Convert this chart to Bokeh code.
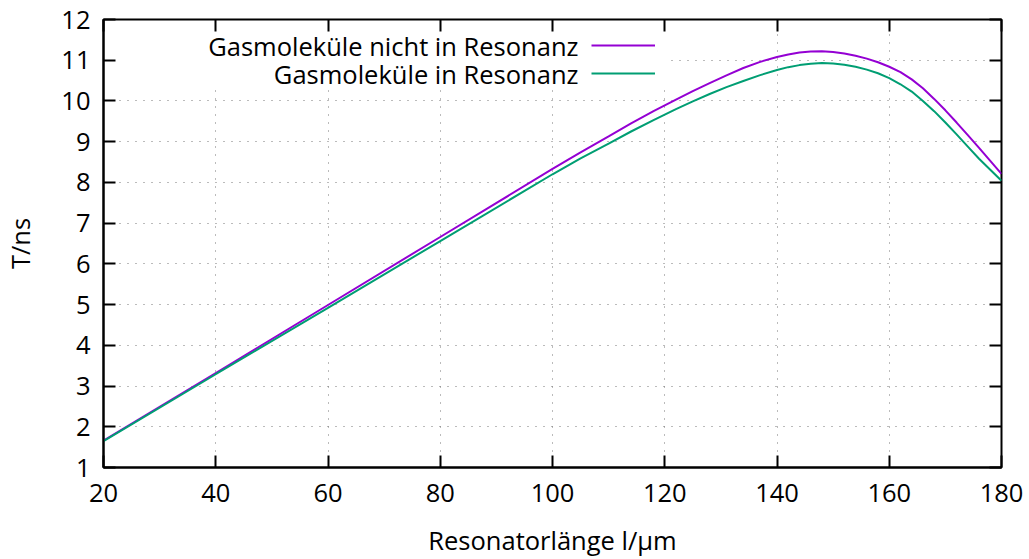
from bokeh.plotting import figure
from bokeh.models import (LinearAxis, Range1d, Legend, LegendItem, Label,
                          BoxAnnotation, FixedTicker)
from bokeh.embed import file_html
from bokeh.resources import INLINE

# ---- data ----
length_um = [20, 40, 60, 80, 100, 105, 110, 114, 118, 122, 125, 128, 131, 134,
             137, 140, 142, 144, 146, 148, 150, 152, 154, 156, 158, 160, 162,
             164, 166, 168, 170, 172, 174, 176, 178, 180]
t_not_res = [1.66, 3.32, 4.99, 6.66, 8.33, 8.74, 9.13, 9.45, 9.75, 10.03,
             10.24, 10.44, 10.63, 10.81, 10.96, 11.08, 11.14, 11.19, 11.215,
             11.22, 11.20, 11.165, 11.11, 11.04, 10.95, 10.84, 10.71, 10.53,
             10.31, 10.05, 9.77, 9.47, 9.16, 8.85, 8.53, 8.21]
t_res = [1.65, 3.29, 4.92, 6.56, 8.20, 8.59, 8.95, 9.25, 9.53, 9.80, 9.99,
         10.17, 10.34, 10.49, 10.635, 10.76, 10.83, 10.88, 10.915, 10.93, 10.92,
         10.89, 10.84, 10.77, 10.68, 10.56, 10.41, 10.23, 10.00, 9.75, 9.47,
         9.18, 8.88, 8.58, 8.31, 8.04]
series_labels = ["Gasmoleküle nicht in Resonanz", "Gasmoleküle in Resonanz"]
series_colors = ["#9400D3", "#009E73"]
x_ticks = [20, 40, 60, 80, 100, 120, 140, 160, 180]
y_ticks = [1, 2, 3, 4, 5, 6, 7, 8, 9, 10, 11, 12]
x_label = "Resonatorlänge l/µm"
y_label = "T/ns"

FONT = "Open Sans"
FS = "25.5px"

p = figure(width=1029, height=559,
           x_range=Range1d(20, 180), y_range=Range1d(1, 12),
           output_backend="svg", toolbar_location=None,
           min_border_left=102, min_border_right=28, min_border_top=19,
           min_border_bottom=92)
p.background_fill_color = "white"
p.border_fill_color = "white"
p.outline_line_color = "black"
p.outline_line_width = 2

def style_axis(ax, show_labels):
    ax.axis_line_color = "black"
    ax.axis_line_width = 2
    ax.major_tick_line_color = "black"
    ax.major_tick_line_width = 2
    ax.major_tick_in = 12
    ax.major_tick_out = 0
    ax.minor_tick_line_color = None
    ax.major_label_text_font = FONT
    ax.major_label_text_color = "black"
    if show_labels:
        ax.major_label_text_font_size = FS
    else:
        ax.major_label_text_font_size = "0px"
        ax.major_label_standoff = 0
        ax.axis_line_color = None

p.xaxis.ticker = FixedTicker(ticks=x_ticks)
p.yaxis.ticker = FixedTicker(ticks=y_ticks)
style_axis(p.xaxis[0], True)
style_axis(p.yaxis[0], True)
p.xaxis.major_label_standoff = 16
p.yaxis.major_label_standoff = 13
p.xaxis.axis_label = x_label
p.yaxis.axis_label = y_label
for ax in (p.xaxis[0], p.yaxis[0]):
    ax.axis_label_text_font = FONT
    ax.axis_label_text_font_size = FS
    ax.axis_label_text_font_style = "normal"
    ax.axis_label_text_color = "black"
p.xaxis.axis_label_standoff = 18
p.yaxis.axis_label_standoff = 21

top_ax = LinearAxis(ticker=FixedTicker(ticks=x_ticks))
right_ax = LinearAxis(ticker=FixedTicker(ticks=y_ticks))
style_axis(top_ax, False)
style_axis(right_ax, False)
p.add_layout(top_ax, "above")
p.add_layout(right_ax, "right")

p.xgrid.ticker = FixedTicker(ticks=x_ticks)
p.ygrid.ticker = FixedTicker(ticks=y_ticks)
for g in (p.xgrid[0], p.ygrid[0]):
    g.grid_line_color = "#777777"
    g.grid_line_width = 1
    g.grid_line_dash = "1 7"

# opaque key background (covers the grid like gnuplot's key box)
key_box = BoxAnnotation(left=20.3, right=120.5, bottom=10.28, top=11.96,
                        fill_color="white", fill_alpha=1.0, line_alpha=0.0,
                        level="underlay")
p.add_layout(key_box)

r1 = p.line(length_um, t_not_res, line_color=series_colors[0], line_width=2)
r2 = p.line(length_um, t_res, line_color=series_colors[1], line_width=2)

legend = Legend(items=[LegendItem(label=" ", renderers=[r1]),
                       LegendItem(label=" ", renderers=[r2])],
                location=(488, 384), glyph_width=64, glyph_height=20,
                spacing=8, padding=0, margin=0, label_width=0,
                label_standoff=0, label_text_font_size="1px",
                border_line_alpha=0, background_fill_alpha=0)
p.add_layout(legend)

for i, txt in enumerate(series_labels):
    p.add_layout(Label(x=475, y=422 - 28 * i, x_units="screen", y_units="screen",
                       text=txt, text_align="right", text_baseline="middle",
                       text_font=FONT, text_font_size=FS, text_color="black"))

open("out.html", "w").write(file_html(p, INLINE))
